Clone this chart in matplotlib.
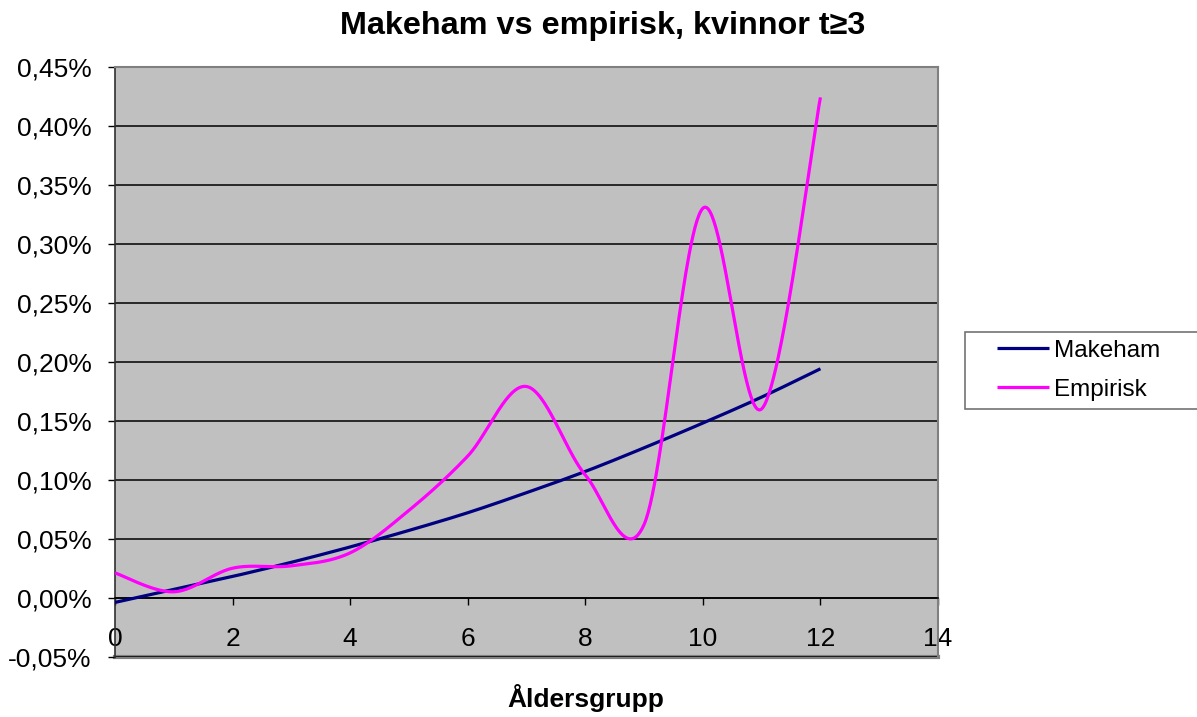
import numpy as np
import matplotlib
matplotlib.use("Agg")
import matplotlib.pyplot as plt
from matplotlib.ticker import FuncFormatter, MultipleLocator
from matplotlib.legend_handler import HandlerLine2D
from matplotlib.lines import Line2D

# Age groups and mortality rates (in percent)
age_groups = [0, 1, 2, 3, 4, 5, 6, 7, 8, 9, 10, 11, 12]
makeham = [-0.004, 0.007, 0.018, 0.030, 0.043, 0.057, 0.072, 0.089, 0.107, 0.127, 0.148, 0.170, 0.194]
empirisk = [0.021, 0.005, 0.025, 0.027, 0.038, 0.074, 0.120, 0.179, 0.104, 0.062, 0.330, 0.160, 0.424]

series_names = ["Makeham", "Empirisk"]
series_colors = ["#000080", "#FF00FF"]

title = "Makeham vs empirisk, kvinnor t\u22653"
xlabel = "Åldersgrupp"


def smooth(xs, ys, n=60):
    """Piecewise cubic Bezier through the points (spreadsheet-style smoothed line)."""
    P = np.column_stack([xs, ys]).astype(float)
    m = len(P)
    out = []
    for i in range(m - 1):
        p0 = P[i - 1] if i > 0 else P[i]
        p1 = P[i]
        p2 = P[i + 1]
        p3 = P[i + 2] if i + 2 < m else P[i + 1]
        c1 = p1 + (p2 - p0) / 6.0
        c2 = p2 - (p3 - p1) / 6.0
        t = np.linspace(0, 1, n)[:, None]
        seg = ((1 - t) ** 3) * p1 + 3 * ((1 - t) ** 2) * t * c1 + 3 * (1 - t) * t ** 2 * c2 + t ** 3 * p2
        if i > 0:
            seg = seg[1:]
        out.append(seg)
    c = np.vstack(out)
    return c[:, 0], c[:, 1]


plt.rcParams["font.family"] = ["Liberation Sans", "DejaVu Sans"]

fig = plt.figure(figsize=(11.97, 7.17), dpi=100)
fig.patch.set_facecolor("white")
ax = fig.add_axes([115 / 1197, 1 - 656.7 / 717, (938 - 115) / 1197, (656.7 - 66.7) / 717])
ax.set_facecolor("#C0C0C0")

lines = []
for ys, name, col in zip([makeham, empirisk], series_names, series_colors):
    sx, sy = smooth(age_groups, ys)
    ln, = ax.plot(sx, sy, color=col, lw=2.3, label=name, solid_capstyle="butt", zorder=3)
    lines.append(ln)

ax.set_xlim(0, 14)
ax.set_ylim(-0.05, 0.45)
ax.xaxis.set_major_locator(MultipleLocator(2))
ax.yaxis.set_major_locator(MultipleLocator(0.05))
ax.yaxis.set_major_formatter(FuncFormatter(lambda v, p: f"{v:.2f}%".replace(".", ",").replace("-0,00", "0,00")))

ax.grid(axis="y", color="black", lw=1.1, zorder=1)
ax.set_axisbelow(True)

# horizontal axis crosses at zero
ax.spines["bottom"].set_position(("data", 0))
ax.spines["bottom"].set_color("black")
ax.spines["bottom"].set_linewidth(1.1)
ax.spines["left"].set_color("#303030")
ax.spines["left"].set_linewidth(1.2)
for s in ["top", "right"]:
    ax.spines[s].set_color("#808080")
    ax.spines[s].set_linewidth(1.5)
ax.axhline(-0.05, color="#808080", lw=3, zorder=0, clip_on=False)

ax.tick_params(axis="x", direction="out", length=5, width=1, pad=16, labelsize=19, colors="black")
ax.tick_params(axis="y", direction="out", length=5, width=1, pad=12, labelsize=19, colors="black")

legend_fs = 17.5
handler = HandlerLine2D(xpad=0.98)
leg = ax.legend(handles=lines, labels=series_names,
                handler_map={Line2D: handler},
                loc="center left",
                bbox_to_anchor=(965 / 1197, 1 - 410 / 717, (1215 - 965) / 1197, (410 - 330.7) / 717),
                bbox_transform=fig.transFigure, mode="expand", frameon=True, fancybox=False,
                fontsize=legend_fs, handlelength=3.13, handletextpad=0.2, borderpad=0.33,
                labelspacing=0.7, borderaxespad=0)
leg.get_frame().set_edgecolor("#505050")
leg.get_frame().set_linewidth(1.2)

fig.text(603 / 1197, 1 - 34 / 717, title, ha="center", va="baseline", fontsize=23.3, fontweight="bold")
fig.text(586 / 1197, 1 - 707 / 717, xlabel, ha="center", va="baseline", fontsize=19, fontweight="bold")

fig.savefig("out.png", dpi=100)
